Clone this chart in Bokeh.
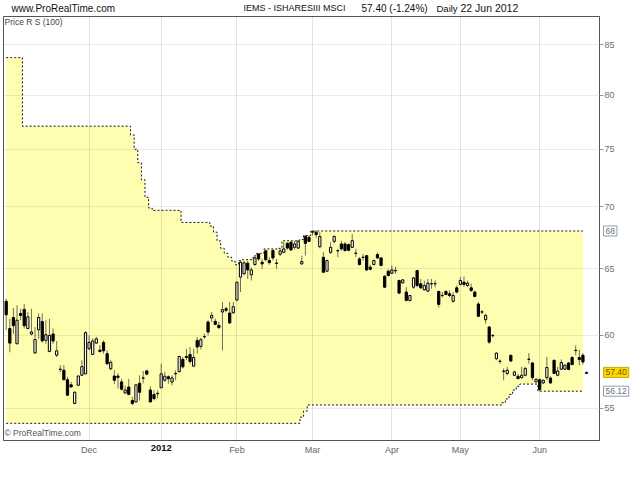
import pandas as pd
from bokeh.plotting import figure
from bokeh.layouts import column
from bokeh.models import ColumnDataSource, Range1d, FixedTicker, Label, NumeralTickFormatter
from bokeh.embed import file_html
from bokeh.resources import INLINE

# ---------------- data ----------------
start_date = "2011-10-31"
end_date = "2012-06-22"
holidays = ["2011-12-26", "2011-12-27", "2012-01-02", "2012-04-06",
            "2012-04-09", "2012-05-07", "2012-06-04", "2012-06-05"]
dates = [d.strftime("%Y-%m-%d") for d in pd.bdate_range(start_date, end_date)
         if d.strftime("%Y-%m-%d") not in holidays]

month_starts = ["2011-12-01", "2012-01-03", "2012-02-01", "2012-03-01",
                "2012-04-02", "2012-05-01", "2012-06-01"]
month_labels = ["Dec", "2012", "Feb", "Mar", "Apr", "May", "Jun"]

opens = [62.5, 60.5, 61.3, 59.4, 61.6, 61.9, 60.5, 60.1, 58.75, 60.4,
         61.0, 59.65, 58.85, 60.1, 58.6, 57.6, 57.55, 56.9, 56.55, 55.3,
         56.52, 57.2, 57.3, 59.05, 58.65, 59.45, 58.95, 59.5, 58.7, 57.65,
         57.15, 57.15, 56.75, 56.0, 56.4, 55.5, 55.4, 56.65, 57.0, 57.5,
         56.2, 55.9, 55.95, 56.35, 56.86, 57.1, 56.74, 57.3, 57.45, 58.3,
         58.5, 58.64, 57.83, 59.64, 59.22, 59.9, 60.97, 61.27, 61.02, 60.73,
         61.71, 61.95, 61.63, 61.65, 62.6, 64.34, 64.6, 65.42, 64.52, 65.32,
         66.15, 65.5, 66.4, 65.63, 66.42, 65.4, 66.13, 66.28, 67.0, 67.08,
         66.68, 66.62, 65.37, 67.57, 67.49, 67.9, 67.9, 66.73, 65.89, 64.8,
         66.28, 67.16, 66.4, 66.95, 66.95, 66.9, 66.68, 66.2, 65.76, 65.87,
         66.02, 65.11, 65.32, 66.1, 65.84, 64.41, 64.8, 64.64, 64.83, 64.08,
         63.9, 63.2, 62.57, 63.57, 64.85, 63.83, 63.37, 63.27, 63.82, 63.84,
         63.24, 62.93, 63.24, 63.07, 62.5, 63.52, 63.78, 63.95, 63.7, 63.52,
         63.2, 62.3, 61.7, 61.14, 60.61, 59.98, 58.35, 58.16, 57.47, 57.32,
         58.59, 57.2, 57.13, 57.04, 57.2, 58.3, 58.05, 56.75, 56.9, 56.68,
         57.04, 57.01, 58.24, 57.2, 57.62, 57.62, 58.05, 58.43, 58.92, 58.43,
         58.59, 57.33]
highs = [62.7, 61.2, 62.0, 62.2, 61.95, 62.3, 61.7, 61.95, 60.6, 61.6,
         61.6, 61.1, 61.2, 60.5, 59.6, 57.9, 57.9, 57.1, 56.75, 56.1,
         57.2, 58.24, 60.3, 60.0, 59.8, 59.9, 59.3, 59.65, 58.93, 58.24,
         57.55, 57.35, 56.95, 56.5, 56.95, 55.75, 56.6, 57.2, 57.5, 57.6,
         56.45, 56.18, 56.18, 58.0, 57.43, 57.2, 57.2, 57.55, 58.55, 58.47,
         59.05, 59.17, 59.05, 59.88, 59.84, 60.12, 61.09, 61.7, 61.22, 61.0,
         62.45, 62.1, 62.45, 62.45, 64.0, 65.63, 65.6, 65.6, 65.1, 65.97,
         66.2, 65.76, 66.5, 65.9, 66.55, 65.76, 66.6, 67.08, 67.08, 67.2,
         67.2, 67.25, 66.02, 67.63, 67.63, 68.04, 68.04, 67.9, 66.3, 65.7,
         67.08, 67.63, 66.55, 67.2, 67.1, 67.0, 67.76, 66.55, 65.9, 66.15,
         66.05, 65.3, 65.7, 66.28, 65.9, 64.47, 64.95, 65.24, 65.15, 64.15,
         64.2, 63.57, 62.98, 64.35, 64.87, 64.2, 64.08, 64.2, 64.2, 64.1,
         63.32, 63.2, 63.35, 63.32, 63.2, 63.7, 64.34, 64.39, 64.08, 63.83,
         63.3, 62.45, 61.85, 61.58, 60.66, 60.1, 58.81, 58.3, 57.67, 57.78,
         58.6, 57.5, 57.3, 57.78, 57.78, 58.74, 58.12, 56.97, 56.97, 56.9,
         58.47, 57.13, 58.26, 57.78, 58.3, 57.95, 58.12, 58.52, 59.29, 58.98,
         58.74, 57.45]
lows = [60.4, 58.8, 60.1, 59.4, 61.1, 60.5, 60.45, 60.0, 58.7, 59.75,
        59.5, 59.4, 58.8, 59.4, 58.45, 57.4, 56.85, 55.8, 56.4, 55.25,
        56.5, 57.2, 57.3, 58.93, 58.6, 59.4, 58.8, 58.7, 57.9, 57.55,
        56.6, 56.3, 56.18, 55.95, 55.85, 55.18, 55.4, 55.5, 56.65, 57.2,
        55.4, 55.5, 55.65, 56.35, 56.75, 56.63, 56.52, 56.86, 57.4, 57.67,
        58.24, 58.0, 57.75, 58.7, 59.0, 59.76, 60.0, 60.97, 60.73, 60.48,
        58.93, 61.7, 60.85, 61.58, 62.5, 63.2, 64.5, 64.2, 64.08, 65.24,
        65.6, 64.98, 65.6, 65.3, 65.65, 64.98, 66.0, 66.28, 66.5, 66.4,
        66.5, 66.55, 65.3, 66.02, 67.1, 67.63, 67.45, 66.6, 64.7, 64.75,
        66.15, 67.0, 65.89, 66.42, 66.35, 66.35, 66.68, 65.9, 65.24, 65.63,
        64.8, 64.85, 65.25, 65.76, 65.2, 63.5, 64.4, 64.6, 64.6, 63.05,
        63.85, 62.5, 62.5, 63.45, 63.57, 63.45, 63.32, 63.2, 63.45, 63.55,
        62.03, 62.8, 62.95, 62.8, 62.42, 63.1, 63.7, 63.57, 63.57, 63.2,
        62.8, 61.34, 61.55, 60.85, 59.4, 59.85, 58.24, 58.0, 56.86, 57.2,
        58.1, 57.15, 56.95, 56.97, 57.13, 58.0, 56.86, 56.7, 56.13, 56.6,
        56.86, 56.62, 57.28, 57.13, 57.55, 57.55, 57.55, 57.89, 58.59, 57.89,
        57.94, 57.3]
closes = [61.5, 59.45, 60.7, 61.1, 61.45, 60.7, 61.35, 60.25, 59.7, 61.3,
          59.6, 60.05, 60.0, 59.6, 58.9, 57.62, 56.9, 55.85, 56.4, 56.05,
          57.15, 57.8, 60.2, 59.5, 59.6, 59.75, 58.85, 58.9, 58.0, 58.1,
          56.86, 57.05, 56.25, 56.2, 55.9, 55.3, 56.55, 56.05, 57.02, 57.28,
          55.4, 55.62, 55.98, 57.3, 57.13, 56.97, 57.02, 57.33, 58.5, 57.78,
          58.43, 58.15, 58.43, 59.17, 59.69, 59.92, 60.24, 61.46, 60.8, 60.56,
          61.88, 61.83, 60.9, 62.1, 63.95, 65.5, 65.45, 64.9, 64.9, 65.84,
          65.76, 65.37, 65.7, 65.47, 65.84, 65.44, 66.4, 66.55, 66.62, 66.47,
          66.95, 67.16, 65.55, 67.0, 67.16, 67.95, 67.7, 67.55, 64.72, 65.63,
          66.68, 67.55, 66.42, 66.55, 66.42, 66.45, 67.22, 66.22, 65.32, 65.9,
          64.9, 64.95, 65.63, 65.84, 65.24, 63.57, 64.47, 64.9, 64.86, 63.12,
          64.13, 62.57, 62.94, 64.28, 63.7, 63.52, 63.7, 63.88, 63.84, 63.83,
          62.27, 62.95, 63.02, 62.94, 62.94, 63.2, 64.08, 63.78, 63.88, 63.32,
          62.87, 61.39, 61.72, 61.46, 59.52, 60.0, 58.74, 58.18, 57.49, 57.55,
          58.19, 57.43, 56.97, 57.2, 57.67, 58.32, 57.04, 56.93, 56.23, 56.86,
          57.74, 56.68, 57.32, 57.5, 58.08, 57.89, 57.6, 57.94, 58.94, 58.29,
          58.12, 57.40]

# Price R S (100): resistance / support levels per bar
resistance = ([83.7] * 5 + [77.1] * 30 + [76.3, 75.0, 73.8, 72.3, 70.8, 69.9]
              + [69.7] * 8 + [68.7] * 8
              + [68.4, 67.9, 67.2, 66.6, 66.2, 65.9, 65.6, 65.3]
              + [65.63] + [65.7] * 3 + [66.0] + [66.2] * 2 + [66.55] * 4 + [66.6]
              + [67.2] * 4 + [67.25, 67.3] + [67.63] * 2 + [68.0] * 76)
support = ([54.0] * 82 + [54.4, 54.8] + [55.2] * 54
           + [55.35, 55.6, 55.9, 56.2, 56.45] + [56.6] * 5 + [56.12] * 13)

y_ticks = [55, 60, 65, 70, 75, 80, 85]

instrument = "IEMS - ISHARESIII MSCI"
period = "Daily"
last_date_label = "22 Jun 2012"

# ---------------- derived ----------------
n = len(dates)
idx = list(range(n))
tick_idx = [dates.index(m) for m in month_starts]
label_map = {t: l for t, l in zip(tick_idx, month_labels)}

last = closes[-1]
chg = (closes[-1] / closes[-2] - 1) * 100

up = [i for i in idx if closes[i] >= opens[i]]
dn = [i for i in idx if closes[i] < opens[i]]

src_all = ColumnDataSource(dict(x=idx, high=highs, low=lows))
src_up = ColumnDataSource(dict(x=up, top=[closes[i] for i in up], bottom=[opens[i] for i in up]))
src_dn = ColumnDataSource(dict(x=dn, top=[opens[i] for i in dn], bottom=[closes[i] for i in dn]))

band_x = idx[:len(resistance)]

FONT = "Liberation Sans"

# ---------------- header strip ----------------
hf = figure(frame_width=640, frame_height=16, x_range=Range1d(0, 640), y_range=Range1d(0, 16),
            x_axis_location=None, y_axis_location=None, min_border=0,
            output_backend="svg", toolbar_location=None,
            background_fill_color="white", border_fill_color="white",
            outline_line_color=None)
hf.grid.visible = False
hdr = dict(y=8.5, x_units="screen", y_units="screen", text_baseline="middle",
           text_font=FONT, text_color="#111111")
hf.add_layout(Label(x=8, text="www.ProRealTime.com", text_font_size="10px", **hdr))
hf.add_layout(Label(x=240, text=instrument, text_font_size="9px", **hdr))
hf.add_layout(Label(x=358, text=f"{last:.2f} ({chg:.2f}%)", text_font_size="10px", **hdr))
hf.add_layout(Label(x=433, text=period, text_font_size="9.5px", **hdr))
hf.add_layout(Label(x=457, text=last_date_label, text_font_size="10.5px", **hdr))

# ---------------- main chart ----------------
p = figure(frame_width=596, frame_height=424,
           min_border_left=3, min_border_right=33, min_border_top=0, min_border_bottom=32,
           x_range=Range1d(-0.75, 164.6), y_range=Range1d(52.9, 87.93),
           y_axis_type="log", y_axis_location="right",
           output_backend="svg", toolbar_location=None,
           background_fill_color="white", border_fill_color="white")

# band
p.varea_step(x=band_x, y1=support, y2=resistance, step_mode="center",
             fill_color="#FFFDB0", level="underlay")
p.step(x=band_x, y=resistance, mode="center", line_color="#111111",
       line_width=1, line_dash="2 2")
p.step(x=band_x, y=support, mode="center", line_color="#111111",
       line_width=1, line_dash="2 2")

# candles
p.segment(x0="x", y0="low", x1="x", y1="high", source=src_all,
          line_color="#6f6f5c", line_width=1)
p.vbar(x="x", width=0.62, top="top", bottom="bottom", source=src_up,
       fill_color="white", line_color="black", line_width=1)
p.vbar(x="x", width=0.62, top="top", bottom="bottom", source=src_dn,
       fill_color="black", line_color="black", line_width=1)

# frame & grid
p.outline_line_color = "#555555"
p.outline_line_width = 1
p.xgrid.ticker = FixedTicker(ticks=tick_idx)
p.ygrid.ticker = FixedTicker(ticks=y_ticks)
p.xgrid.grid_line_color = "black"
p.xgrid.grid_line_alpha = 0.11
p.ygrid.grid_line_color = "black"
p.ygrid.grid_line_alpha = 0.08
p.xgrid.level = "overlay"
p.ygrid.level = "overlay"

# y axis (right)
ya = p.yaxis[0]
ya.ticker = FixedTicker(ticks=y_ticks)
ya.formatter = NumeralTickFormatter(format="0")
ya.major_label_text_font = FONT
ya.major_label_text_font_size = "9px"
ya.major_label_text_color = "#707070"
ya.axis_line_color = "#555555"
ya.major_tick_line_color = "#999999"
ya.major_tick_out = 4
ya.major_tick_in = 0
ya.minor_tick_line_color = None
ya.major_label_standoff = 1

# x axis
xa = p.xaxis[0]
xa.ticker = FixedTicker(ticks=tick_idx)
xa.major_label_overrides = {t: ("" if l == "2012" else l) for t, l in label_map.items()}
xa.major_label_text_font = FONT
xa.major_label_text_font_size = "9px"
xa.major_label_text_color = "#666666"
xa.axis_line_color = "#555555"
xa.major_tick_line_color = None
xa.minor_tick_line_color = None
xa.major_tick_out = 0
xa.major_tick_in = 0
xa.major_label_standoff = 4

for t, l in label_map.items():
    if l == "2012":
        p.add_layout(Label(x=t, y=16, x_units="data", y_units="screen", text=l,
                           text_align="center", text_baseline="middle",
                           text_font=FONT, text_font_size="9.5px",
                           text_font_style="bold", text_color="#111111"), "below")

p.add_layout(Label(x=1, y=419, x_units="screen", y_units="screen",
                   text="Price R S (100)", text_baseline="middle",
                   text_font=FONT, text_font_size="8.5px", text_color="#444444"))
p.add_layout(Label(x=1, y=8, x_units="screen", y_units="screen",
                   text="\u00a9 ProRealTime.com", text_baseline="middle",
                   text_font=FONT, text_font_size="8.5px", text_color="#555555"))

# value boxes beside the right axis
box = dict(x_units="screen", y_units="data", text_baseline="middle",
           text_font=FONT, text_font_size="8.5px", padding=2)
p.add_layout(Label(x=-14, y=resistance[-1], text=f"{resistance[-1]:.0f}",
                   background_fill_color="white", border_line_color="#8d9db3",
                   text_color="#707070", **box), "right")
p.add_layout(Label(x=-27, y=last, text=f"{last:.2f}",
                   background_fill_color="#FFD800", border_line_color="#c8a800",
                   text_color="#705a00", **box), "right")
p.add_layout(Label(x=-52, y=support[-1], text=f"{support[-1]:.2f}",
                   background_fill_color="white", border_line_color="#8d9db3",
                   text_color="#707070", **box), "right")

layout = column(hf, p, spacing=0)
open("out.html", "w").write(file_html(layout, INLINE))
